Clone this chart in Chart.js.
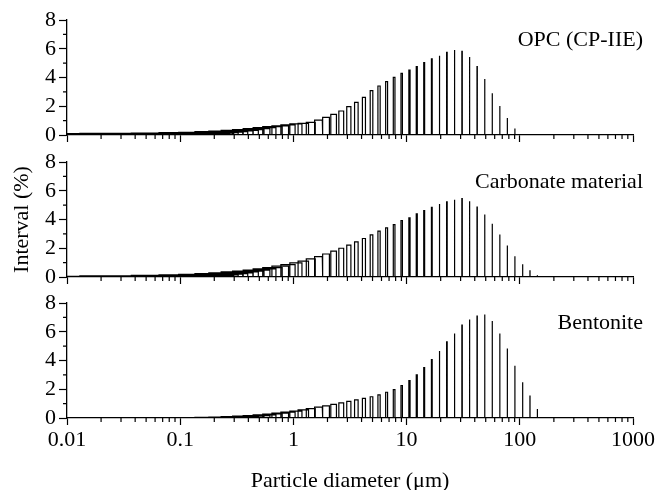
<!DOCTYPE html>
<html>
<head>
<meta charset="utf-8">
<title>Particle size distribution</title>
<script src="https://cdn.jsdelivr.net/npm/chart.js@4.4.0/dist/chart.umd.min.js"></script>
<style>
  body { margin: 0; background: #fff; }
  .panel { position: absolute; left: 0; }
</style>
</head>
<body>
<canvas id="opcChart" class="panel" style="top:0px" width="657" height="150"></canvas>
<canvas id="carbonateChart" class="panel" style="top:142px" width="657" height="150"></canvas>
<canvas id="bentoniteChart" class="panel" style="top:283px" width="657" height="207"></canvas>
<script>
// Bin centres (um): ~15 classes per decade
var diameters = [
  0.0106, 0.0123, 0.0143, 0.0167, 0.0195, 0.0227, 0.0265, 0.0309, 0.0360, 0.0420, 0.0490, 0.0571, 0.0666, 0.0776, 0.0905,
  0.106, 0.123, 0.143, 0.167, 0.195, 0.227, 0.265, 0.309, 0.360, 0.420, 0.490, 0.571, 0.666, 0.776, 0.905,
  1.06, 1.23, 1.43, 1.67, 1.95, 2.27, 2.65, 3.09, 3.60, 4.20, 4.90, 5.71, 6.66, 7.76, 9.05,
  10.6, 12.3, 14.3, 16.7, 19.5, 22.7, 26.5, 30.9, 36.0, 42.0, 49.0, 57.1, 66.6, 77.6, 90.5,
  106, 123, 143
];

// Interval (%) per class
var opcValues = [
  0.01, 0.01, 0.01, 0.01, 0.01, 0.02, 0.02, 0.02, 0.03, 0.03, 0.04, 0.04, 0.05, 0.06, 0.07,
  0.08, 0.09, 0.11, 0.13, 0.16, 0.19, 0.23, 0.28, 0.32, 0.37, 0.44, 0.51, 0.58, 0.63, 0.70,
  0.77, 0.81, 0.88, 1.04, 1.23, 1.44, 1.67, 1.97, 2.27, 2.62, 3.09, 3.41, 3.71, 4.01, 4.29,
  4.52, 4.76, 5.03, 5.29, 5.52, 5.75, 5.92, 5.82, 5.43, 4.76, 3.90, 2.90, 2.01, 1.18, 0.46,
  null, null, null
];
var carbonateValues = [
  null, null, null, null, null, null, null, null, null, null, null, null, null, null, 0.02,
  0.03, 0.05, 0.08, 0.11, 0.15, 0.19, 0.24, 0.29, 0.35, 0.41, 0.48, 0.56, 0.65, 0.75, 0.86,
  0.98, 1.11, 1.26, 1.42, 1.60, 1.80, 2.00, 2.22, 2.45, 2.68, 2.93, 3.19, 3.42, 3.65, 3.93,
  4.11, 4.39, 4.62, 4.85, 5.08, 5.22, 5.38, 5.45, 5.27, 4.87, 4.34, 3.70, 2.96, 2.19, 1.45,
  0.88, 0.42, 0.12
];
var bentoniteValues = [
  null, null, null, null, null, null, null, null, null, null, null, null, null, null, null,
  null, null, null, null, null, 0.02, 0.04, 0.06, 0.09, 0.13, 0.17, 0.22, 0.28, 0.34, 0.41,
  0.48, 0.56, 0.65, 0.75, 0.85, 0.95, 1.05, 1.15, 1.26, 1.37, 1.48, 1.61, 1.79, 1.98, 2.26,
  2.61, 3.01, 3.50, 4.06, 4.66, 5.29, 5.87, 6.46, 6.85, 7.09, 7.20, 6.74, 5.87, 4.83, 3.64,
  2.49, 1.52, 0.63
];

var xTicks = [0.01, 0.1, 1, 10, 100, 1000];
var yTicks = [0, 2, 4, 6, 8];

var BAR_WIDTH = 0.26;   // column width in um (constant, so it narrows on the log axis)
var FONT = '"Liberation Serif", "Times New Roman", serif';

Chart.defaults.font.family = FONT;
Chart.defaults.font.size = 22;
Chart.defaults.color = '#000';

// Outline of open columns, one rectangle per class
function columnOutline(values) {
  var pts = [];
  for (var i = 0; i < diameters.length; i++) {
    if (values[i] === null) continue;
    var left = Math.max(diameters[i] - BAR_WIDTH / 2, xTicks[0]);
    var right = diameters[i] + BAR_WIDTH / 2;
    pts.push({x: left, y: 0}, {x: left, y: values[i]}, {x: right, y: values[i]}, {x: right, y: 0});
  }
  return pts;
}

// Short minor ticks + sample name in the corner
var panelDecor = {
  id: 'panelDecor',
  afterDraw: function(chart, args, opts) {
    var ctx = chart.ctx;
    var xs = chart.scales.x, ys = chart.scales.y;
    ctx.save();
    ctx.strokeStyle = '#000';
    ctx.lineWidth = 1.2;
    ctx.beginPath();
    for (var d = 0; d < xTicks.length - 1; d++) {
      for (var m = 2; m <= 9; m++) {
        var px = xs.getPixelForValue(xTicks[d] * m);
        ctx.moveTo(px, xs.top);
        ctx.lineTo(px, xs.top + 4);
      }
    }
    for (var v = 1; v < 8; v += 2) {
      var py = ys.getPixelForValue(v);
      ctx.moveTo(ys.right, py);
      ctx.lineTo(ys.right - 4, py);
    }
    ctx.stroke();
    ctx.font = '22px ' + FONT;
    ctx.fillStyle = '#000';
    ctx.textAlign = 'right';
    ctx.textBaseline = 'middle';
    ctx.fillText(opts.text, chart.chartArea.right + 10, chart.chartArea.top + 20);
    ctx.restore();
  }
};

function makePanel(canvasId, values, name, axisHeight, bottom) {
  var ctx = document.getElementById(canvasId).getContext('2d');
  return new Chart(ctx, {
    type: 'scatter',
    data: {
      datasets: [{
        data: columnOutline(values),
        showLine: true,
        pointRadius: 0,
        borderColor: '#000',
        borderWidth: 1.2,
        fill: false
      }]
    },
    options: {
      responsive: false,
      animation: false,
      events: [],
      layout: { padding: { top: 20, right: 24, bottom: 0, left: 0 } },
      plugins: {
        legend: { display: false },
        tooltip: { enabled: false },
        panelDecor: { text: name }
      },
      scales: {
        x: {
          type: 'logarithmic',
          min: 0.01,
          max: 1000,
          grid: { drawOnChartArea: false, tickLength: 7, tickWidth: 1.2, tickColor: '#000' },
          border: { color: '#000', width: 1.3 },
          ticks: {
            display: bottom,
            padding: 2,
            maxRotation: 0,
            autoSkip: false,
            callback: function(value) { return String(value); }
          },
          title: {
            display: bottom,
            text: 'Particle diameter (\u03bcm)',
            font: { size: 22, lineHeight: 1 },
            padding: { top: 0, bottom: -2 }
          },
          afterBuildTicks: function(scale) {
            scale.ticks = xTicks.map(function(v) { return {value: v, major: true}; });
          },
          afterFit: function(scale) {
            scale.height = axisHeight;
            scale.paddingLeft = 0;
            scale.paddingRight = 0;
          }
        },
        y: {
          min: 0,
          max: 8,
          grid: { drawOnChartArea: false, tickLength: 8, tickWidth: 1.2, tickColor: '#000' },
          border: { color: '#000', width: 1.3 },
          ticks: { padding: 3, autoSkip: false },
          title: {
            display: canvasId === 'carbonateChart',
            text: 'Interval (%)',
            font: { size: 22, lineHeight: 1 },
            padding: { top: 11, bottom: 0 }
          },
          afterBuildTicks: function(scale) {
            scale.ticks = yTicks.map(function(v) { return {value: v}; });
          },
          afterFit: function(scale) {
            scale.width = 67;
            scale.paddingTop = 0;
            scale.paddingBottom = 0;
          }
        }
      }
    },
    plugins: [panelDecor]
  });
}

var opcChart = makePanel('opcChart', opcValues, 'OPC (CP-IIE)', 15, false);
var carbonateChart = makePanel('carbonateChart', carbonateValues, 'Carbonate material', 15, false);
var bentoniteChart = makePanel('bentoniteChart', bentoniteValues, 'Bentonite', 72, true);
</script>
</body>
</html>
